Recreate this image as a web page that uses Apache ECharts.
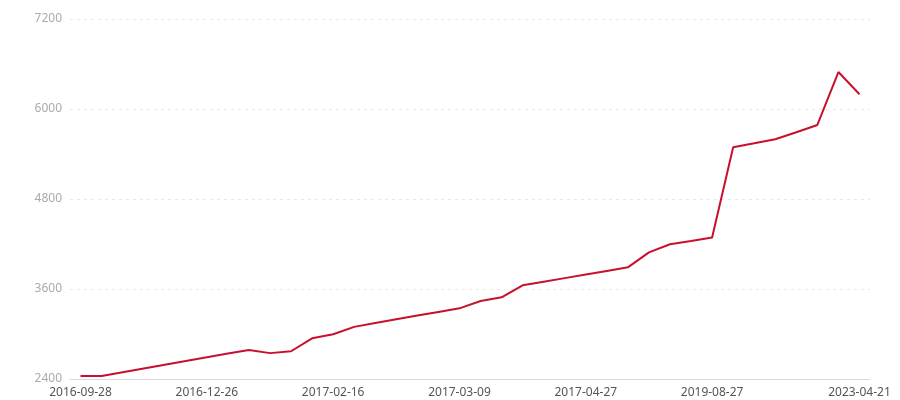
<!DOCTYPE html>
<html>
<head>
<meta charset="utf-8">
<script src="https://cdn.jsdelivr.net/npm/echarts@6/dist/echarts.min.js"></script>
<style>html,body{margin:0;padding:0;background:#fff;}#c{width:900px;height:400px;}</style>
</head>
<body>
<div id="c"></div>
<script>
const categories = [
  '2016-09-28','2016-10-12','2016-10-26','2016-11-09','2016-11-23','2016-12-07',
  '2016-12-26','2017-01-05','2017-01-12','2017-01-19','2017-01-26','2017-02-06',
  '2017-02-16','2017-02-20','2017-02-23','2017-02-27','2017-03-02','2017-03-06',
  '2017-03-09','2017-03-16','2017-03-23','2017-03-30','2017-04-06','2017-04-17',
  '2017-04-27','2017-06-15','2017-09-20','2018-01-10','2018-06-15','2019-01-20',
  '2019-08-27','2020-03-10','2020-09-15','2021-03-20','2021-09-10','2022-03-15',
  '2022-09-20','2023-04-21'
];
const values = [
  2440, 2440, 2490, 2540, 2590, 2640,
  2690, 2740, 2787, 2745, 2770, 2942,
  2996, 3095, 3148, 3197, 3246, 3294,
  3342, 3440, 3489, 3649, 3697, 3745,
  3793, 3841, 3889, 4089, 4196, 4240,
  4287, 5489, 5542, 5596, 5690, 5787,
  6493, 6196
];
const yTicks = { min: 2400, max: 7200, interval: 1200 };

const chart = echarts.init(document.getElementById('c'));
chart.setOption({
  animation: false,
  grid: { left: 70, right: 30, top: 19, bottom: 21 },
  xAxis: {
    type: 'category',
    data: categories,
    boundaryGap: true,
    axisLine: { lineStyle: { color: '#d9d9d9', width: 1 } },
    axisTick: { alignWithLabel: true, lineStyle: { color: '#d9d9d9' } },
    axisLabel: {
      color: '#555',
      fontSize: 12,
      fontFamily: 'Noto Sans',
      interval: function (i) { return (i % 6 === 0 && i <= 30) || i === categories.length - 1; }
    }
  },
  yAxis: {
    type: 'value',
    min: yTicks.min, max: yTicks.max, interval: yTicks.interval,
    axisLine: { show: false },
    axisTick: { show: false },
    axisLabel: { color: '#aaa', fontSize: 12, fontFamily: 'Noto Sans', formatter: function (v) { return String(v); } },
    splitLine: { lineStyle: { color: '#e8e8e8', type: [3, 4] } }
  },
  series: [{
    type: 'line',
    data: values,
    showSymbol: false,
    lineStyle: { color: '#c8102e', width: 2 },
    itemStyle: { color: '#c8102e' }
  }]
});
</script>
</body>
</html>
